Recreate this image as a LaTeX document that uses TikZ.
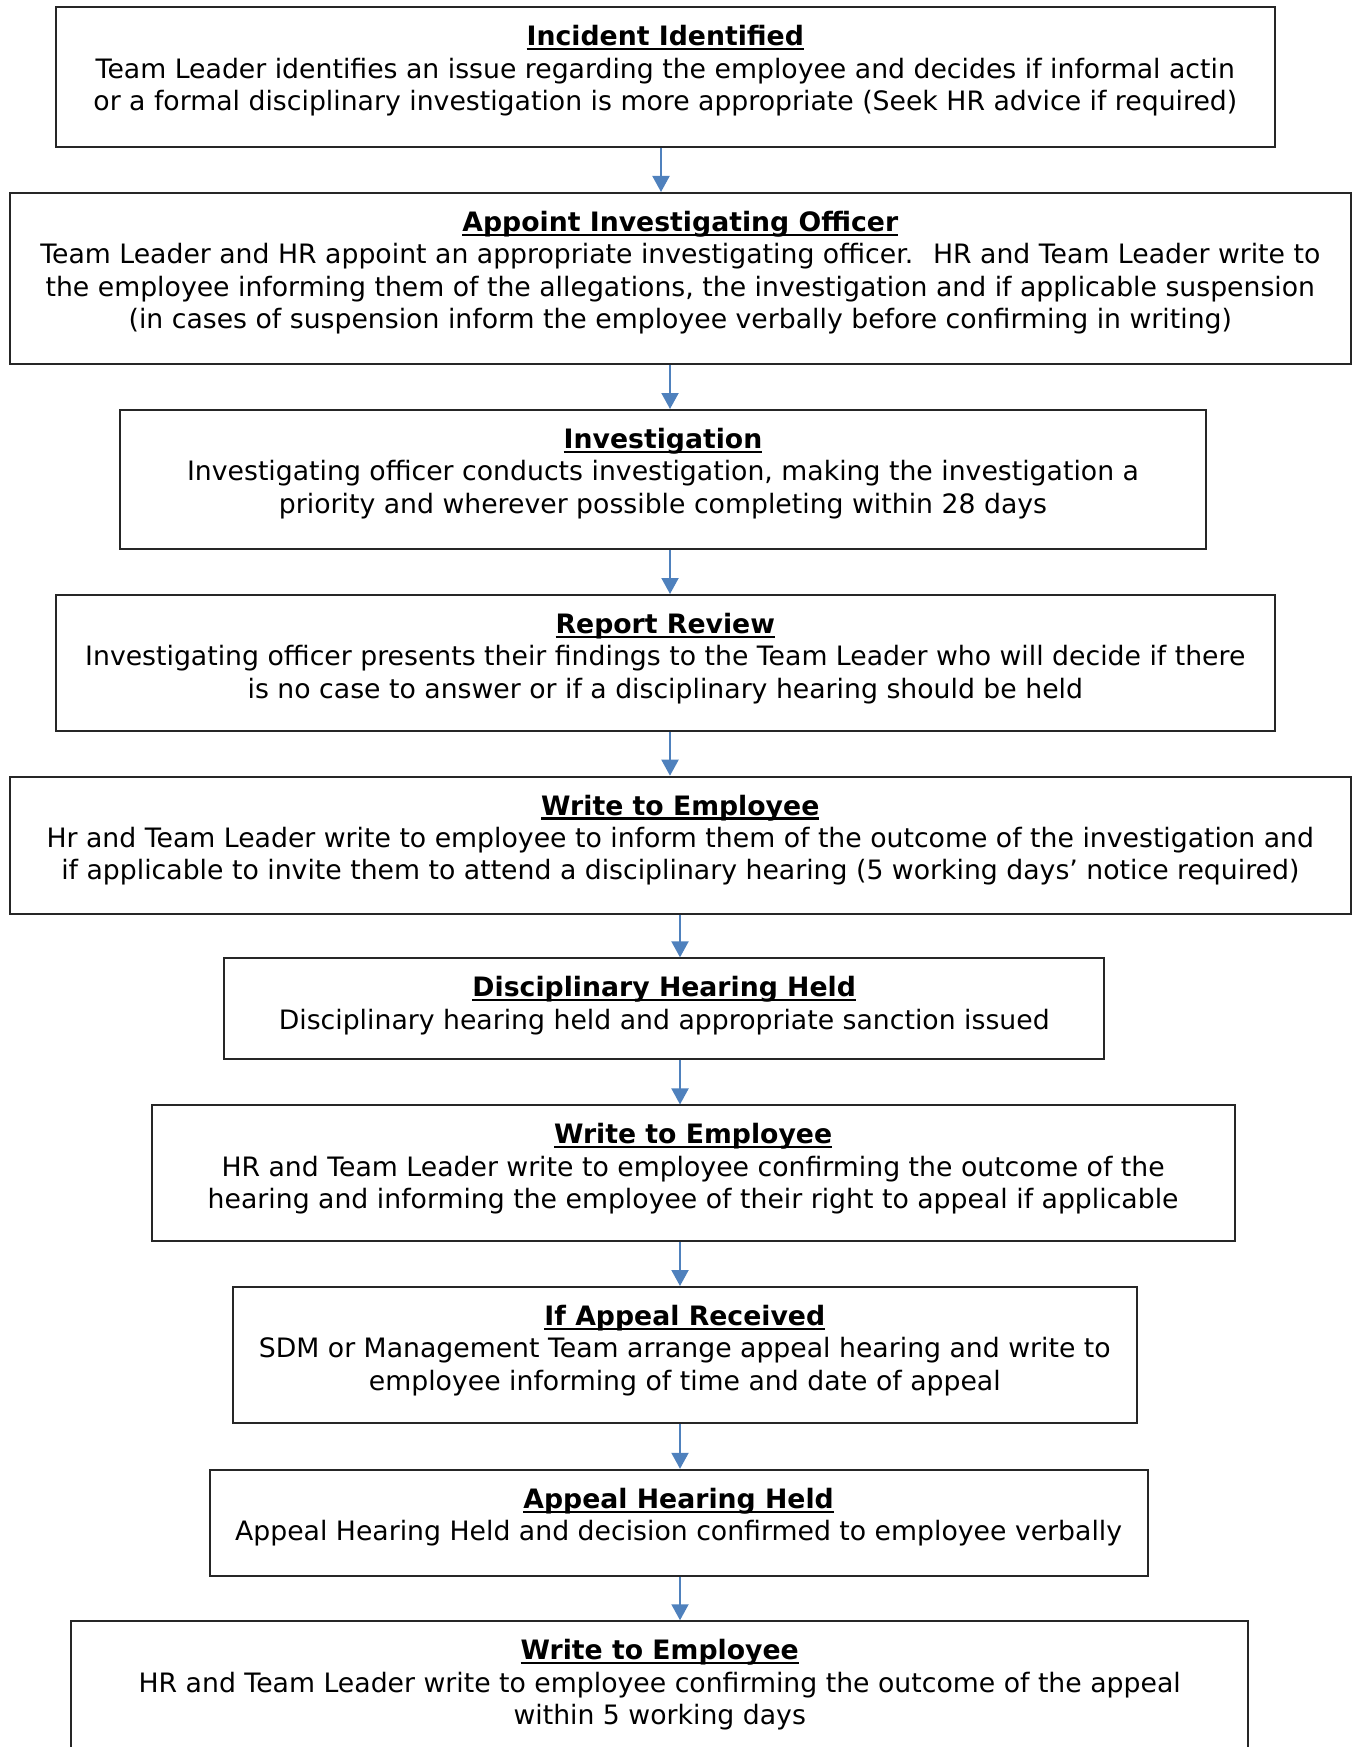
\documentclass[tikz,border=0pt]{standalone}
\usepackage{fontspec}
\setmainfont{DejaVu Sans}
\usetikzlibrary{arrows.meta,positioning}
\definecolor{cArrow}{RGB}{79,129,189}
\tikzset{
  stagebox/.style={rectangle,draw=black!85,line width=2pt,inner sep=0pt},
  stagetext/.style={align=center,inner sep=0pt,
                    font=\fontsize{26.7}{32.3}\selectfont},
  arr/.style={-{Triangle[length=16pt,width=17pt]},line width=2pt,color=cArrow}
}
\newcommand{\stagehead}[1]{\setbox0\hbox{\textbf{#1}}%
  \rlap{\raisebox{-4.5pt}{\rule{\wd0}{2.2pt}}}\box0}

\begin{document}
\begin{tikzpicture}[x=1pt,y=1pt]
  \path[use as bounding box] (0,0) rectangle (1355,-1747);
  \clip (0,0) rectangle (1355,-1747);
  % arrow columns
  \coordinate (colA) at (661,0);
  \coordinate (colB) at (670,0);
  \coordinate (colC) at (680,0);

  \node[stagebox,minimum width=1219pt,minimum height=139.5pt] (incident) at (665.3,-77.2) {};
  \node[stagetext,below=19pt of incident.north] (incidentTxt)
      {\stagehead{Incident Identified}\\
       Team Leader identifies an issue regarding the employee and decides if informal actin\\
       or a formal disciplinary investigation is more appropriate (Seek HR advice if required)};

  \node[stagebox,minimum width=1340.5pt,minimum height=171pt] (appoint) at (680.3,-278.5) {};
  \node[stagetext,below=19pt of appoint.north] (appointTxt)
      {\stagehead{Appoint Investigating Officer}\\
       Team Leader and HR appoint an appropriate investigating officer.~ HR and Team Leader write to\\
       the employee informing them of the allegations, the investigation and if applicable suspension\\
       (in cases of suspension inform the employee verbally before confirming in writing)};

  \node[stagebox,minimum width=1085.4pt,minimum height=139pt] (invest) at (663,-479.5) {};
  \node[stagetext,below=19pt of invest.north] (investTxt)
      {\stagehead{Investigation}\\
       Investigating officer conducts investigation, making the investigation a\\
       priority and wherever possible completing within 28 days};

  \node[stagebox,minimum width=1219pt,minimum height=136pt] (review) at (665.3,-663) {};
  \node[stagetext,below=19pt of review.north] (reviewTxt)
      {\stagehead{Report Review}\\
       Investigating officer presents their findings to the Team Leader who will decide if there\\
       is no case to answer or if a disciplinary hearing should be held};

  \node[stagebox,minimum width=1340.5pt,minimum height=137pt] (writeA) at (680.3,-845.2) {};
  \node[stagetext,below=19pt of writeA.north] (writeATxt)
      {\stagehead{Write to Employee}\\
       Hr and Team Leader write to employee to inform them of the outcome of the investigation and\\
       if applicable to invite them to attend a disciplinary hearing (5 working days’ notice required)};

  \node[stagebox,minimum width=880.3pt,minimum height=100.3pt] (hearing) at (664.2,-1008.5) {};
  \node[stagetext,below=19pt of hearing.north] (hearingTxt)
      {\stagehead{Disciplinary Hearing Held}\\
       Disciplinary hearing held and appropriate sanction issued};

  \node[stagebox,minimum width=1083.2pt,minimum height=135.9pt] (writeB) at (693.1,-1173.4) {};
  \node[stagetext,below=19pt of writeB.north] (writeBTxt)
      {\stagehead{Write to Employee}\\
       HR and Team Leader write to employee confirming the outcome of the\\
       hearing and informing the employee of their right to appeal if applicable};

  \node[stagebox,minimum width=903.7pt,minimum height=136pt] (appeal) at (684.8,-1355) {};
  \node[stagetext,below=19pt of appeal.north] (appealTxt)
      {\stagehead{If Appeal Received}\\
       SDM or Management Team arrange appeal hearing and write to\\
       employee informing of time and date of appeal};

  \node[stagebox,minimum width=938.2pt,minimum height=105.8pt] (appealHr) at (678.6,-1522.7) {};
  \node[stagetext,below=19pt of appealHr.north] (appealHrTxt)
      {\stagehead{Appeal Hearing Held}\\
       Appeal Hearing Held and decision confirmed to employee verbally};

  \node[stagebox,minimum width=1176.7pt,minimum height=168.7pt] (writeC) at (659.7,-1705.6) {};
  \node[stagetext,below=19pt of writeC.north] (writeCTxt)
      {\stagehead{Write to Employee}\\
       HR and Team Leader write to employee confirming the outcome of the appeal\\
       within 5 working days};

  \draw[arr] (incident.south -| colA) -- (appoint.north -| colA);
  \draw[arr] (appoint.south -| colB) -- (invest.north -| colB);
  \draw[arr] (invest.south -| colB) -- (review.north -| colB);
  \draw[arr] (review.south -| colB) -- (writeA.north -| colB);
  \draw[arr] (writeA.south -| colC) -- (hearing.north -| colC);
  \draw[arr] (hearing.south -| colC) -- (writeB.north -| colC);
  \draw[arr] (writeB.south -| colC) -- (appeal.north -| colC);
  \draw[arr] (appeal.south -| colC) -- (appealHr.north -| colC);
  \draw[arr] (appealHr.south -| colC) -- (writeC.north -| colC);
\end{tikzpicture}
\end{document}
